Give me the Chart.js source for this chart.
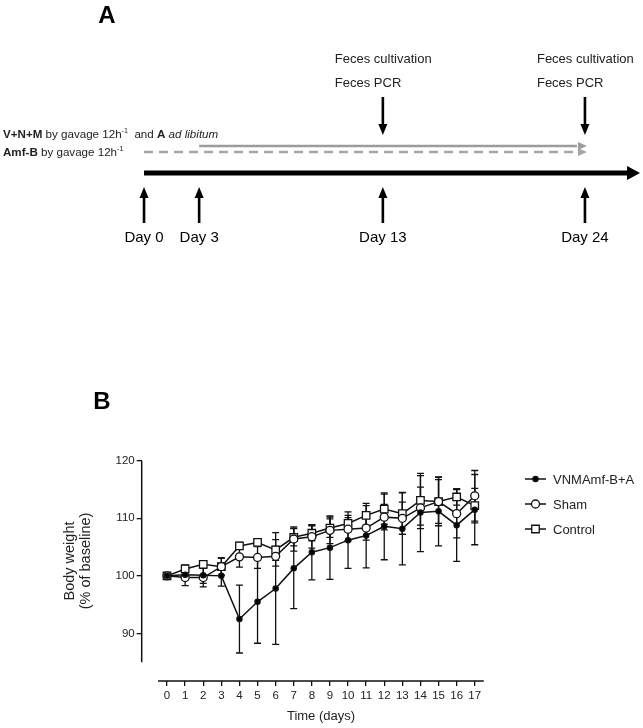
<!DOCTYPE html>
<html>
<head>
<meta charset="utf-8">
<title>Timeline and body weight</title>
<script src="https://cdn.jsdelivr.net/npm/chart.js@4.4.0/dist/chart.umd.min.js"></script>
<style>
    html, body { margin: 0; padding: 0; background: #fff; }
    #wrap { position: relative; width: 643px; height: 728px; }
    canvas { position: absolute; left: 0; }
    #chartA { top: 0; }
    #chartB { top: 260px; }
</style>
</head>
<body>
<div id="wrap">
    <canvas id="chartA" width="643" height="260"></canvas>
    <canvas id="chartB" width="643" height="468"></canvas>
</div>
<script>
/* ===================================================
   DATA
   =================================================== */
// Panel A - study timeline
const timelineDays = [0, 3, 13, 24];
const timelineLabels = ['Day 0', 'Day 3', 'Day 13', 'Day 24'];
const samplingDays = [13, 24];
const samplingLabels = ['Feces cultivation', 'Feces PCR'];
const vnmPeriod = [3, 24];
const amfPeriod = [0, 24];
const timelineSpan = [0, 27];

// Panel B - body weight (% of baseline), mean and SD
const days = [0, 1, 2, 3, 4, 5, 6, 7, 8, 9, 10, 11, 12, 13, 14, 15, 16, 17];
const yTicks = [90, 100, 110, 120];
const seriesNames = ['VNMAmf-B+A', 'Sham', 'Control'];
const vnmMean = [100.0, 100.2, 100.1, 100.0, 92.5, 95.5, 97.8, 101.3, 104.1, 104.9, 106.2, 107.0, 108.6, 108.2, 111.0, 111.2, 108.8, 111.5];
const vnmSd = [0, 0.9, 1.4, 1.8, 5.9, 7.2, 9.7, 7.0, 4.8, 5.5, 4.9, 5.6, 5.8, 6.3, 6.8, 6.0, 6.3, 6.1];
const shamMean = [100.0, 99.7, 99.7, 101.6, 103.3, 103.2, 103.4, 106.4, 106.8, 107.9, 108.1, 108.3, 110.2, 110.0, 111.8, 112.9, 110.8, 113.9];
const shamSd = [0, 1.4, 1.6, 1.5, 1.8, 1.9, 1.7, 2.1, 2.0, 2.3, 2.0, 2.1, 2.2, 2.8, 3.6, 3.8, 4.2, 4.4];
const controlMean = [100.0, 101.2, 102.0, 101.6, 105.2, 105.8, 104.5, 106.7, 107.4, 108.3, 109.1, 110.5, 111.6, 110.8, 113.1, 112.9, 113.7, 112.2];
const controlSd = [0, 0.7, 0.6, 1.5, 0.6, 0.6, 1.8, 1.5, 1.3, 1.6, 1.4, 1.7, 2.6, 3.6, 4.3, 4.2, 1.4, 3.0];

const FONT = '"Liberation Sans", Arial, Helvetica, sans-serif';
const INK = '#111';

/* ===================================================
   PANEL A
   =================================================== */
const A_MIN = -7.84, A_MAX = 27.16;
const PX_PER_DAY = 643 / (A_MAX - A_MIN);
const rows = { feces1: 59, feces2: 83, downFrom: 97, downTo: 135, vnm: 146, amf: 152, main: 173, upTo: 187, upFrom: 223, dayLabel: 238, txtVnm: 135, txtAmf: 153 };

function arrowHead(ctx, x, y, dir, len, half) {
    ctx.beginPath();
    if (dir === 'right') { ctx.moveTo(x, y); ctx.lineTo(x - len, y - half); ctx.lineTo(x - len, y + half); }
    if (dir === 'down')  { ctx.moveTo(x, y); ctx.lineTo(x - half, y - len); ctx.lineTo(x + half, y - len); }
    if (dir === 'up')    { ctx.moveTo(x, y); ctx.lineTo(x - half, y + len); ctx.lineTo(x + half, y + len); }
    ctx.closePath();
    ctx.fill();
}

function drawRich(ctx, x, y, parts, size) {
    parts.forEach(p => {
        const s = p.sup ? size * 0.62 : size;
        ctx.font = `${p.italic ? 'italic ' : ''}${p.bold ? 'bold ' : ''}${s}px ${FONT}`;
        ctx.fillText(p.t, x, p.sup ? y - size * 0.35 : y);
        x += ctx.measureText(p.t).width;
    });
}

const timelinePlugin = {
    id: 'timeline',
    afterDatasetsDraw(chart) {
        const { ctx } = chart;
        const x = chart.scales.x;
        ctx.save();

        // arrow heads on the horizontal lines
        ctx.fillStyle = '#000';
        arrowHead(ctx, x.getPixelForValue(timelineSpan[1]), rows.main, 'right', 13, 7);
        ctx.fillStyle = '#9c9c9c';
        arrowHead(ctx, x.getPixelForValue(vnmPeriod[1]) + 2, rows.vnm, 'right', 9, 4);
        ctx.fillStyle = '#a6a6a6';
        arrowHead(ctx, x.getPixelForValue(amfPeriod[1]) + 2, rows.amf, 'right', 9, 4);

        // day markers (up arrows)
        ctx.fillStyle = '#000';
        ctx.strokeStyle = '#000';
        ctx.lineWidth = 2.6;
        ctx.textAlign = 'center';
        ctx.textBaseline = 'middle';
        ctx.font = `15px ${FONT}`;
        timelineDays.forEach((d, i) => {
            const px = x.getPixelForValue(d);
            ctx.beginPath();
            ctx.moveTo(px, rows.upFrom);
            ctx.lineTo(px, rows.upTo + 9);
            ctx.stroke();
            arrowHead(ctx, px, rows.upTo, 'up', 11, 4.5);
            ctx.fillText(timelineLabels[i], px, rows.dayLabel);
        });

        // sampling (down arrows)
        ctx.textAlign = 'left';
        ctx.font = `13px ${FONT}`;
        ctx.fillStyle = '#222';
        samplingDays.forEach(d => {
            const px = x.getPixelForValue(d);
            ctx.fillStyle = '#000';
            ctx.beginPath();
            ctx.moveTo(px, rows.downFrom);
            ctx.lineTo(px, rows.downTo - 9);
            ctx.stroke();
            arrowHead(ctx, px, rows.downTo, 'down', 11, 4.5);
            ctx.fillStyle = '#222';
            ctx.fillText(samplingLabels[0], px - 48, rows.feces1);
            ctx.fillText(samplingLabels[1], px - 48, rows.feces2);
        });

        // treatment text
        ctx.fillStyle = '#222';
        drawRich(ctx, 3, rows.txtVnm, [
            { t: 'V+N+M', bold: true }, { t: ' by gavage 12h' }, { t: '-1', sup: true },
            { t: '  and ' }, { t: 'A', bold: true }, { t: ' ad libitum', italic: true }
        ], 11.6);
        drawRich(ctx, 3, rows.txtAmf, [
            { t: 'Amf-B', bold: true }, { t: ' by gavage 12h' }, { t: '-1', sup: true }
        ], 11.6);

        // panel letter
        ctx.fillStyle = '#000';
        ctx.textAlign = 'center';
        ctx.font = `bold 24px ${FONT}`;
        ctx.fillText('A', 107, 16);
        ctx.restore();
    }
};

const smallHead = 8 / PX_PER_DAY;
const bigHead = 12 / PX_PER_DAY;

new Chart(document.getElementById('chartA'), {
    type: 'line',
    data: {
        datasets: [
            { data: [{ x: amfPeriod[0], y: rows.amf }, { x: amfPeriod[1] - smallHead, y: rows.amf }], borderColor: '#a6a6a6', borderWidth: 2.5, borderDash: [9, 6], pointRadius: 0 },
            { data: [{ x: vnmPeriod[0], y: rows.vnm }, { x: vnmPeriod[1] - smallHead, y: rows.vnm }], borderColor: '#9c9c9c', borderWidth: 2.5, pointRadius: 0 },
            { data: [{ x: timelineSpan[0], y: rows.main }, { x: timelineSpan[1] - bigHead, y: rows.main }], borderColor: '#000', borderWidth: 5, pointRadius: 0 }
        ]
    },
    options: {
        responsive: false,
        animation: false,
        devicePixelRatio: 1,
        layout: { padding: 0 },
        plugins: { legend: { display: false }, tooltip: { enabled: false } },
        scales: {
            x: { type: 'linear', display: false, min: A_MIN, max: A_MAX },
            y: { type: 'linear', display: false, min: 0, max: 260, reverse: true }
        }
    },
    plugins: [timelinePlugin]
});

/* ===================================================
   PANEL B
   =================================================== */
const series = [
    { name: seriesNames[0], mean: vnmMean, sd: vnmSd, style: 'circle', radius: 2.6, fill: '#000' },
    { name: seriesNames[1], mean: shamMean, sd: shamSd, style: 'circle', radius: 4, fill: '#fff' },
    { name: seriesNames[2], mean: controlMean, sd: controlSd, style: 'rect', radius: 5.3, fill: '#fff' }
];

const bodyPlugin = {
    id: 'bodyWeight',
    beforeDatasetsDraw(chart) {
        const { ctx, chartArea } = chart;
        const { x, y } = chart.scales;
        ctx.save();
        ctx.strokeStyle = INK;
        ctx.lineWidth = 1.5;
        // detached axis lines, prism style
        ctx.beginPath();
        ctx.moveTo(chartArea.left, y.getPixelForValue(yTicks[yTicks.length - 1]));
        ctx.lineTo(chartArea.left, y.getPixelForValue(85));
        ctx.moveTo(x.getPixelForValue(days[0] - 0.5), chartArea.bottom);
        ctx.lineTo(x.getPixelForValue(days[days.length - 1] + 0.5), chartArea.bottom);
        ctx.stroke();

        // error bars (mean +/- SD)
        ctx.lineWidth = 1.3;
        chart.data.datasets.forEach(ds => {
            ds.data.forEach((p, i) => {
                const e = ds.errors[i];
                if (!e) return;
                const px = x.getPixelForValue(p.x);
                const top = y.getPixelForValue(p.y + e);
                const bot = y.getPixelForValue(p.y - e);
                ctx.beginPath();
                ctx.moveTo(px, top); ctx.lineTo(px, bot);
                ctx.moveTo(px - 3.5, top); ctx.lineTo(px + 3.5, top);
                ctx.moveTo(px - 3.5, bot); ctx.lineTo(px + 3.5, bot);
                ctx.stroke();
            });
        });
        ctx.restore();
    },
    afterDraw(chart) {
        const { ctx } = chart;
        ctx.save();
        ctx.fillStyle = '#222';
        ctx.textBaseline = 'middle';

        // axis titles
        ctx.textAlign = 'center';
        ctx.font = `13px ${FONT}`;
        ctx.fillText('Time (days)', 321, 456);
        ctx.font = `14.5px ${FONT}`;
        ctx.translate(70, 301);
        ctx.rotate(-Math.PI / 2);
        ctx.fillText('Body weight', 0, 0);
        ctx.fillText('(% of baseline)', 0, 16);
        ctx.setTransform(1, 0, 0, 1, 0, 0);

        // legend
        ctx.textAlign = 'left';
        ctx.font = `13px ${FONT}`;
        series.forEach((s, i) => {
            const ly = 219 + i * 25;
            ctx.strokeStyle = INK;
            ctx.lineWidth = 1.5;
            ctx.beginPath();
            ctx.moveTo(525, ly);
            ctx.lineTo(546, ly);
            ctx.stroke();
            ctx.fillStyle = s.fill;
            ctx.lineWidth = 1.3;
            Chart.helpers.drawPoint(ctx, { pointStyle: s.style, radius: s.radius, borderWidth: 1.3, rotation: 0 }, 535.5, ly);
            ctx.fillStyle = '#222';
            ctx.fillText(s.name, 553, ly + 1);
        });

        // panel letter
        ctx.fillStyle = '#000';
        ctx.textAlign = 'center';
        ctx.font = `bold 24px ${FONT}`;
        ctx.fillText('B', 102, 142);
        ctx.restore();
    }
};

new Chart(document.getElementById('chartB'), {
    type: 'line',
    data: {
        datasets: series.map(s => ({
            label: s.name,
            data: days.map((d, i) => ({ x: d, y: s.mean[i] })),
            errors: s.sd,
            borderColor: INK,
            borderWidth: 1.5,
            tension: 0,
            pointStyle: s.style,
            pointRadius: s.radius,
            pointBackgroundColor: s.fill,
            pointBorderColor: INK,
            pointBorderWidth: 1.3
        }))
    },
    options: {
        responsive: false,
        animation: false,
        devicePixelRatio: 1,
        layout: { padding: { top: 200.7, right: 159.2, left: 0, bottom: 0 } },
        plugins: { legend: { display: false }, tooltip: { enabled: false } },
        scales: {
            x: {
                type: 'linear',
                min: -1.4,
                max: 17.5,
                afterBuildTicks: s => { s.ticks = days.map(v => ({ value: v })); },
                afterFit: s => { s.height = 47; },
                border: { display: false },
                grid: { drawOnChartArea: false, tickLength: 5, color: INK, lineWidth: 1.3 },
                ticks: { autoSkip: false, maxRotation: 0, padding: 3, color: '#222', font: { family: FONT, size: 11.5 } }
            },
            y: {
                type: 'linear',
                min: 81.74,
                max: 120,
                afterBuildTicks: s => { s.ticks = yTicks.map(v => ({ value: v })); },
                afterFit: s => { s.width = 141.7; },
                border: { display: false },
                grid: { drawOnChartArea: false, tickLength: 5, color: INK, lineWidth: 1.3 },
                ticks: { padding: 2, color: '#222', font: { family: FONT, size: 11.5 } }
            }
        }
    },
    plugins: [bodyPlugin]
});
</script>
</body>
</html>
